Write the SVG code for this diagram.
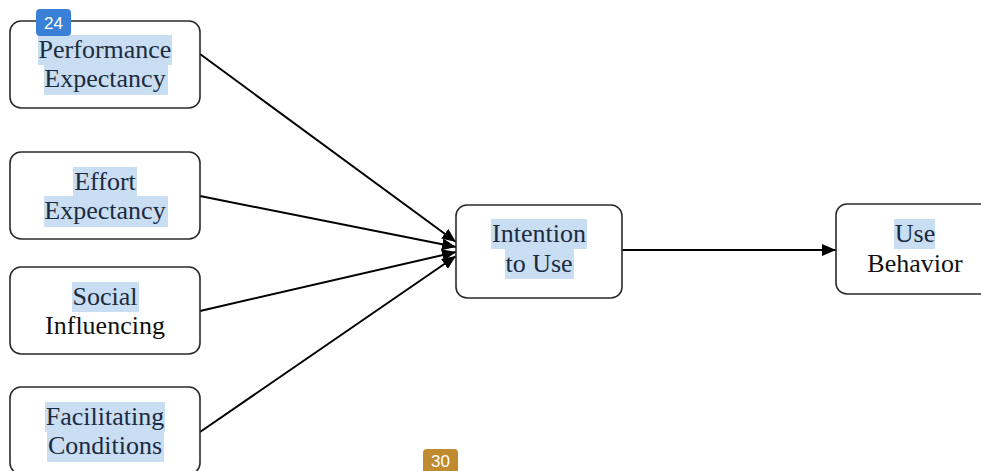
<svg xmlns="http://www.w3.org/2000/svg" width="981" height="471" viewBox="0 0 981 471">
  <style>
    .box { fill: #ffffff; stroke: #2b2b2b; stroke-width: 1.6; }
    .lbl { font-size: 26px; fill: #111111; text-anchor: middle; }
    .sel { fill: #c9ddf3; }
    .hl { fill: #1b2b40; }
    .edge { stroke: #000000; stroke-width: 2; fill: none; }
    .badge-text { font-size: 17px; fill: #ffffff; text-anchor: middle; }
  </style>
  <defs>
    <marker id="arrow" viewBox="0 0 14 12" refX="14" refY="6" markerWidth="14" markerHeight="12" markerUnits="userSpaceOnUse" orient="auto">
      <path d="M0,0 L14,6 L0,12 Z" fill="#000000"/>
    </marker>
  </defs>

  <rect width="981" height="471" fill="#ffffff"/>

  <!-- connectors -->
  <g id="connectors">
    <line class="edge" x1="200" y1="54" x2="456" y2="242" marker-end="url(#arrow)"/>
    <line class="edge" x1="200" y1="196" x2="456" y2="247" marker-end="url(#arrow)"/>
    <line class="edge" x1="200" y1="311" x2="456" y2="252" marker-end="url(#arrow)"/>
    <line class="edge" x1="200" y1="432" x2="456" y2="256" marker-end="url(#arrow)"/>
    <line class="edge" x1="622" y1="250" x2="836" y2="250" marker-end="url(#arrow)"/>
  </g>

  <g font-family="'Liberation Serif', Tinos, 'Times New Roman', serif">
    <!-- Performance Expectancy -->
    <g id="performance-expectancy">
      <rect class="box" x="10" y="21" width="190" height="87" rx="11"/>
      <rect class="sel" x="38" y="35" width="134" height="30"/>
      <rect class="sel" x="44" y="64" width="124" height="31"/>
      <text class="lbl hl" x="105" y="58">Performance</text>
      <text class="lbl hl" x="105" y="87">Expectancy</text>
    </g>

    <!-- Effort Expectancy -->
    <g id="effort-expectancy">
      <rect class="box" x="10" y="152" width="190" height="87" rx="11"/>
      <rect class="sel" x="73" y="167" width="64" height="30"/>
      <rect class="sel" x="44" y="196" width="124" height="31"/>
      <text class="lbl hl" x="105" y="190">Effort</text>
      <text class="lbl hl" x="105" y="219">Expectancy</text>
    </g>

    <!-- Social Influencing -->
    <g id="social-influencing">
      <rect class="box" x="10" y="267" width="190" height="87" rx="11"/>
      <rect class="sel" x="72" y="282" width="67" height="30"/>
      <text class="lbl hl" x="105" y="305">Social</text>
      <text class="lbl" x="105" y="334">Influencing</text>
    </g>

    <!-- Facilitating Conditions -->
    <g id="facilitating-conditions">
      <rect class="box" x="10" y="387" width="190" height="87" rx="11"/>
      <rect class="sel" x="45" y="402" width="120" height="30"/>
      <rect class="sel" x="47" y="431" width="117" height="31"/>
      <text class="lbl hl" x="105" y="425">Facilitating</text>
      <text class="lbl hl" x="105" y="454">Conditions</text>
    </g>

    <!-- Intention to Use -->
    <g id="intention-to-use">
      <rect class="box" x="456" y="205" width="166" height="93" rx="11"/>
      <rect class="sel" x="491" y="219" width="96" height="30"/>
      <rect class="sel" x="505" y="248" width="69" height="31"/>
      <text class="lbl hl" x="539" y="242">Intention</text>
      <text class="lbl hl" x="539" y="272">to Use</text>
    </g>

    <!-- Use Behavior -->
    <g id="use-behavior">
      <rect class="box" x="836" y="204" width="158" height="90" rx="11"/>
      <rect class="sel" x="894" y="219" width="41" height="30"/>
      <text class="lbl hl" x="915" y="242">Use</text>
      <text class="lbl" x="915" y="272">Behavior</text>
    </g>
  </g>

  <!-- page badges -->
  <g font-family="'Liberation Sans', Arial, sans-serif">
    <g id="badge-24">
      <rect x="36" y="9" width="35" height="27" rx="4" fill="#3a80d6"/>
      <text class="badge-text" x="53.5" y="29">24</text>
    </g>
    <g id="badge-30">
      <rect x="423" y="449" width="35" height="30" rx="4" fill="#c08a2e"/>
      <text class="badge-text" x="440.5" y="467" font-size="16">30</text>
    </g>
  </g>
</svg>
